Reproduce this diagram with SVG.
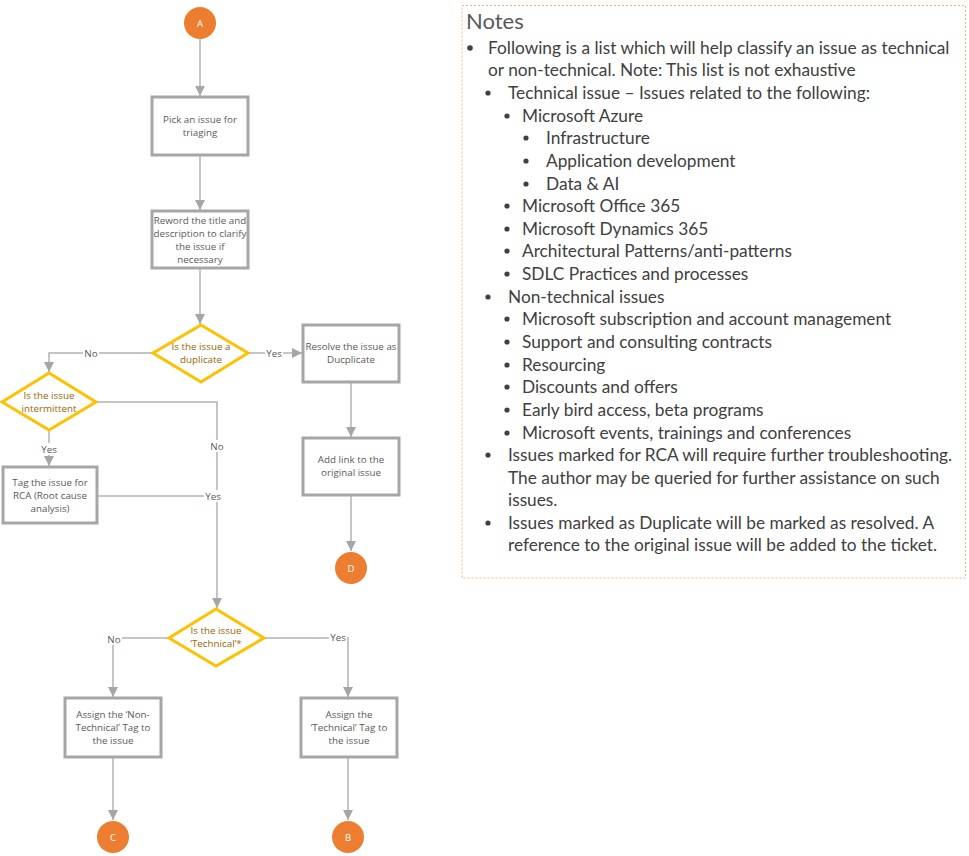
<svg xmlns="http://www.w3.org/2000/svg" width="969" height="856" viewBox="0 0 969 856">
<defs>
<marker id="ah" markerUnits="userSpaceOnUse" markerWidth="10" markerHeight="10" refX="10" refY="5" orient="auto" viewBox="0 0 10 10">
<path d="M0,0 L10,5 L0,10 z" fill="#a6a6a6"/>
</marker>
</defs>
<style>
.box{fill:#fff;stroke:#a6a6a6;stroke-width:3}
.dia{fill:#fff;stroke:#ffc000;stroke-width:3}
.term{fill:#ed7d31}
.tt{font-family:"Open Sans","Liberation Sans",sans-serif;font-size:9.8px;fill:#595959;text-anchor:middle}
.dt{font-family:"Open Sans","Liberation Sans",sans-serif;font-size:9.8px;fill:#9c6500;text-anchor:middle}
.ct{font-family:"Open Sans","Liberation Sans",sans-serif;font-size:9.5px;fill:#fff;text-anchor:middle}
.ln{fill:none;stroke:#b3b3b3;stroke-width:1.5}
.lb{font-family:"Open Sans","Liberation Sans",sans-serif;font-size:9.8px;fill:#595959;text-anchor:middle}
.lbg{fill:#fff}
.nt{font-family:Lato,"Liberation Sans",sans-serif;font-size:17.3px;fill:#404040}
.nh{font-family:Lato,"Liberation Sans",sans-serif;font-size:22px;fill:#595959}
.bul{fill:#404040}
</style>
<g id="connectors">
<path class="ln" d="M200,39 V96" marker-end="url(#ah)"/>
<path class="ln" d="M200,155 V210" marker-end="url(#ah)"/>
<path class="ln" d="M200,268 V324" marker-end="url(#ah)"/>
<path class="ln" d="M153,353 H49 V372" marker-end="url(#ah)"/>
<path class="ln" d="M248,353 H302" marker-end="url(#ah)"/>
<path class="ln" d="M351,382 V437" marker-end="url(#ah)"/>
<path class="ln" d="M351,495 V551" marker-end="url(#ah)"/>
<path class="ln" d="M49,431 V466" marker-end="url(#ah)"/>
<path class="ln" d="M97,402 H217 V608" marker-end="url(#ah)"/>
<path class="ln" d="M97,496 H217"/>
<path class="ln" d="M169,638 H113 V697" marker-end="url(#ah)"/>
<path class="ln" d="M264,638 H348 V697" marker-end="url(#ah)"/>
<path class="ln" d="M113,757 V820" marker-end="url(#ah)"/>
<path class="ln" d="M348,757 V820" marker-end="url(#ah)"/>
<rect class="lbg" x="83" y="347" width="16" height="12"/><text class="lb" x="91" y="356.5">No</text>
<rect class="lbg" x="265" y="347" width="18" height="12"/><text class="lb" x="274" y="356.5">Yes</text>
<rect class="lbg" x="40" y="443" width="18" height="12"/><text class="lb" x="49" y="452.5">Yes</text>
<rect class="lbg" x="209" y="440" width="16" height="12"/><text class="lb" x="217" y="449.5">No</text>
<rect class="lbg" x="204" y="490" width="18" height="12"/><text class="lb" x="213" y="499.5">Yes</text>
<rect class="lbg" x="106" y="633" width="16" height="12"/><text class="lb" x="114" y="642.5">No</text>
<rect class="lbg" x="329" y="631" width="18" height="12"/><text class="lb" x="338" y="640.5">Yes</text>
</g>
<g id="A"><circle class="term" cx="200" cy="23" r="16"/><text class="ct" x="200" y="26.5">A</text></g>
<g id="pick"><rect class="box" x="152" y="97" width="96" height="58"/><text class="tt" x="200" y="123">Pick an issue for</text><text class="tt" x="200" y="136">triaging</text></g>
<g id="reword"><rect class="box" x="152" y="211" width="96" height="57"/><text class="tt" x="200" y="224">Reword the title and</text><text class="tt" x="200" y="237">description to clarify</text><text class="tt" x="200" y="250">the issue if</text><text class="tt" x="200" y="263">necessary</text></g>
<g id="dup"><path class="dia" d="M201,325 L248,353 L201,382 L153,353 z"/><text class="dt" x="201" y="350">Is the issue a</text><text class="dt" x="201" y="363">duplicate</text></g>
<g id="resolve"><rect class="box" x="303" y="325" width="96" height="57"/><text class="tt" x="351" y="350">Resolve the issue as</text><text class="tt" x="351" y="363">Ducplicate</text></g>
<g id="addlink"><rect class="box" x="303" y="438" width="96" height="57"/><text class="tt" x="351" y="463">Add link to the</text><text class="tt" x="351" y="476">original issue</text></g>
<g id="D"><circle class="term" cx="351" cy="568" r="16"/><text class="ct" x="351" y="571.5">D</text></g>
<g id="intermittent"><path class="dia" d="M49,373 L96,402 L49,430 L2,402 z"/><text class="dt" x="49" y="399">Is the issue</text><text class="dt" x="49" y="412">intermittent</text></g>
<g id="rca"><rect class="box" x="3" y="467" width="94" height="56"/><text class="tt" x="50" y="486">Tag the issue for</text><text class="tt" x="50" y="499">RCA (Root cause</text><text class="tt" x="50" y="512">analysis)</text></g>
<g id="technical"><path class="dia" d="M216,609 L264,638 L216,666 L169,638 z"/><text class="dt" x="216" y="634">Is the issue</text><text class="dt" x="216" y="647">‘Technical’*</text></g>
<g id="nontech"><rect class="box" x="65" y="698" width="96" height="59"/><text class="tt" x="113" y="718">Assign the ‘Non-</text><text class="tt" x="113" y="731">Technical’ Tag to</text><text class="tt" x="113" y="744">the issue</text></g>
<g id="tech"><rect class="box" x="301" y="698" width="96" height="59"/><text class="tt" x="349" y="718">Assign the</text><text class="tt" x="349" y="731">‘Technical’ Tag to</text><text class="tt" x="349" y="744">the issue</text></g>
<g id="C"><circle class="term" cx="113" cy="837" r="16"/><text class="ct" x="113" y="840.5">C</text></g>
<g id="B"><circle class="term" cx="348" cy="837" r="16"/><text class="ct" x="348" y="840.5">B</text></g>
<g id="notes">
<rect x="462" y="5.5" width="503.5" height="572.5" fill="none" stroke="#f4b183" stroke-width="1" stroke-dasharray="2,2"/>
<text class="nh" x="466" y="29">Notes</text>
<circle class="bul" cx="470" cy="48" r="2.8"/><text class="nt" x="488" y="54">Following is a list which will help classify an issue as technical</text>
<text class="nt" x="488" y="76">or non-technical. Note: This list is not exhaustive</text>
<circle class="bul" cx="488" cy="93" r="2.6"/><text class="nt" x="508" y="99">Technical issue – Issues related to the following:</text>
<circle class="bul" cx="507" cy="116" r="2.6"/><text class="nt" x="522" y="122">Microsoft Azure</text>
<circle class="bul" cx="526" cy="138" r="2.6"/><text class="nt" x="546" y="144">Infrastructure</text>
<circle class="bul" cx="526" cy="161" r="2.6"/><text class="nt" x="546" y="167">Application development</text>
<circle class="bul" cx="526" cy="184" r="2.6"/><text class="nt" x="546" y="190">Data &amp; AI</text>
<circle class="bul" cx="507" cy="206" r="2.6"/><text class="nt" x="522" y="212">Microsoft Office 365</text>
<circle class="bul" cx="507" cy="229" r="2.6"/><text class="nt" x="522" y="235">Microsoft Dynamics 365</text>
<circle class="bul" cx="507" cy="251" r="2.6"/><text class="nt" x="522" y="257">Architectural Patterns/anti-patterns</text>
<circle class="bul" cx="507" cy="274" r="2.6"/><text class="nt" x="522" y="280">SDLC Practices and processes</text>
<circle class="bul" cx="488" cy="297" r="2.6"/><text class="nt" x="508" y="303">Non-technical issues</text>
<circle class="bul" cx="507" cy="319" r="2.6"/><text class="nt" x="522" y="325">Microsoft subscription and account management</text>
<circle class="bul" cx="507" cy="342" r="2.6"/><text class="nt" x="522" y="348">Support and consulting contracts</text>
<circle class="bul" cx="507" cy="365" r="2.6"/><text class="nt" x="522" y="371">Resourcing</text>
<circle class="bul" cx="507" cy="387" r="2.6"/><text class="nt" x="522" y="393">Discounts and offers</text>
<circle class="bul" cx="507" cy="410" r="2.6"/><text class="nt" x="522" y="416">Early bird access, beta programs</text>
<circle class="bul" cx="507" cy="433" r="2.6"/><text class="nt" x="522" y="439">Microsoft events, trainings and conferences</text>
<circle class="bul" cx="488" cy="455" r="2.6"/><text class="nt" x="508" y="461">Issues marked for RCA will require further troubleshooting.</text>
<text class="nt" x="508" y="484">The author may be queried for further assistance on such</text>
<text class="nt" x="508" y="506">issues.</text>
<circle class="bul" cx="488" cy="523" r="2.6"/><text class="nt" x="508" y="529">Issues marked as Duplicate will be marked as resolved. A</text>
<text class="nt" x="508" y="551">reference to the original issue will be added to the ticket.</text>
</g>
</svg>
